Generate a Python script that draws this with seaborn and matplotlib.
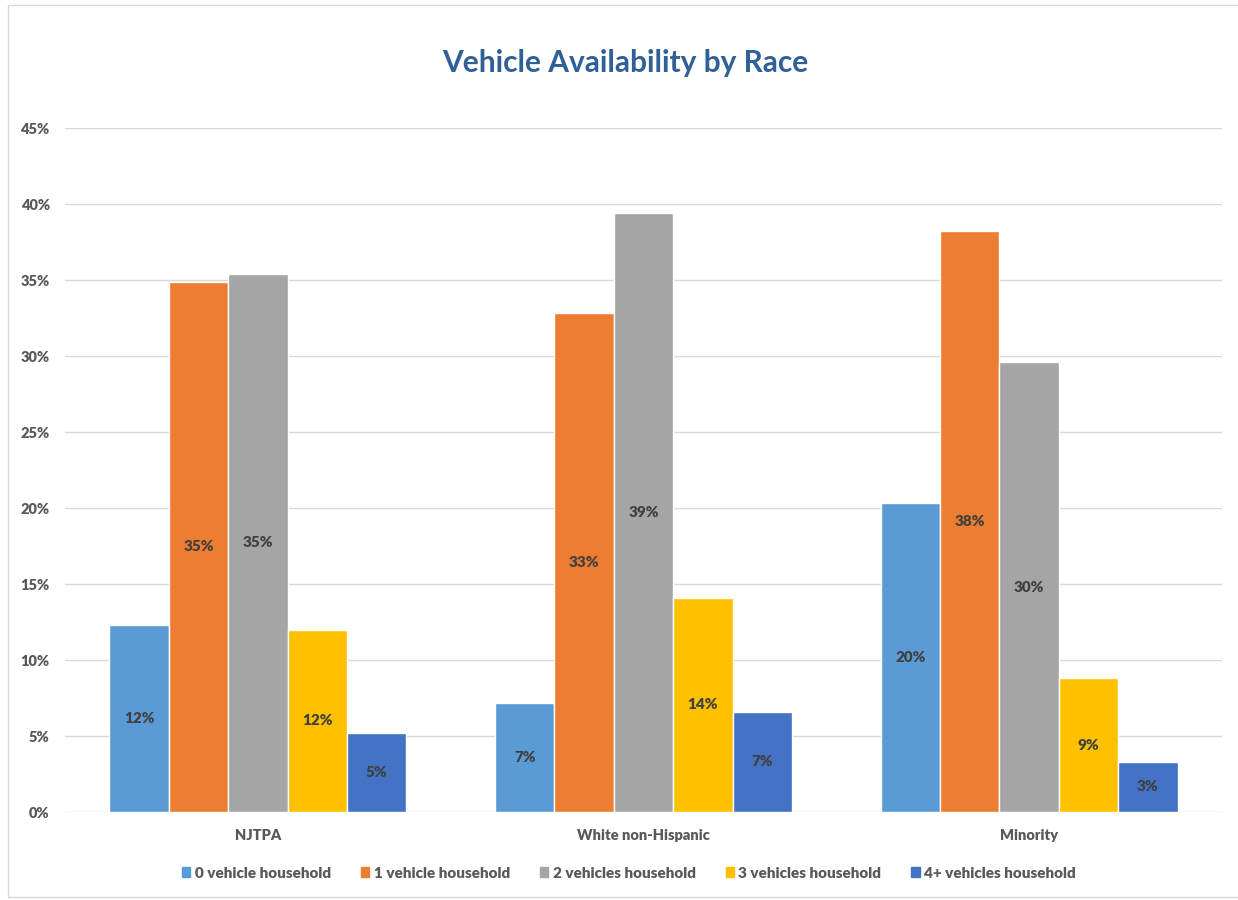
import matplotlib.pyplot as plt
import matplotlib.patches as mpatches
import seaborn as sns
import pandas as pd

groups = ["NJTPA", "White non-Hispanic", "Minority"]
series = ["0 vehicle household", "1 vehicle household", "2 vehicles household",
          "3 vehicles household", "4+ vehicles household"]
zero_veh = [12.3, 7.2, 20.3]
one_veh = [34.9, 32.8, 38.2]
two_veh = [35.4, 39.4, 29.6]
three_veh = [12.0, 14.1, 8.8]
four_veh = [5.2, 6.6, 3.3]
colors = ["#5B9BD5", "#ED7D31", "#A5A5A5", "#FFC000", "#4472C4"]

rows = []
for s, vals in zip(series, [zero_veh, one_veh, two_veh, three_veh, four_veh]):
    for g, v in zip(groups, vals):
        rows.append({"grupo": g, "serie": s, "valor": v})
df = pd.DataFrame(rows)

sns.set_style("white")
plt.rcParams["font.family"] = ["Lato", "DejaVu Sans"]

fig = plt.figure(figsize=(12.38, 9), dpi=100)
ax = fig.add_axes([65 / 1238, 1 - 812 / 900, (1222 - 65) / 1238, (812 - 128) / 900])

sns.barplot(data=df, x="grupo", y="valor", hue="serie", order=groups, hue_order=series,
            palette=colors, width=0.77, gap=0, saturation=1, legend=False, ax=ax)

for cont in ax.containers:
    vals = [b.get_height() for b in cont]
    ax.bar_label(cont, labels=[f"{v:.0f}%" for v in vals], label_type="center",
                 fontsize=11, fontweight="heavy", color="#404040")

ax.set_ylim(0, 45)
ax.set_yticks(range(0, 46, 5))
ax.set_yticklabels([f"{t}%" for t in range(0, 46, 5)])
ax.grid(axis="y", color="#D9D9D9", linewidth=1)
ax.set_axisbelow(True)
for sp in ax.spines.values():
    sp.set_visible(False)
ax.tick_params(axis="both", length=0, labelsize=10.5, labelcolor="#595959")
ax.tick_params(axis="x", pad=12)
ax.tick_params(axis="y", pad=11)
for lab in ax.get_xticklabels() + ax.get_yticklabels():
    lab.set_fontweight("heavy")
ax.set_xlabel("")
ax.set_ylabel("")

fig.text(0.505, 1 - 63 / 900, "Vehicle Availability by Race", ha="center", va="center",
         fontsize=21.5, fontweight="bold", color="#2F6196")

handles = [mpatches.Patch(color=c, label=s) for c, s in zip(colors, series)]
leg = fig.legend(handles=handles, loc="center", bbox_to_anchor=(0.508, 1 - 873 / 900),
                 ncol=5, frameon=False, handlelength=0.55, handleheight=0.55,
                 handletextpad=0.3, columnspacing=1.95,
                 prop={"size": 11, "weight": "heavy"})
for t in leg.get_texts():
    t.set_color("#595959")

fig.patches.append(mpatches.Rectangle((8 / 1238, 1 - 897 / 900), 1.1, 892 / 900,
                                      transform=fig.transFigure, fill=False,
                                      edgecolor="#D9D9D9", linewidth=1))

fig.savefig("out.png", dpi=100)
